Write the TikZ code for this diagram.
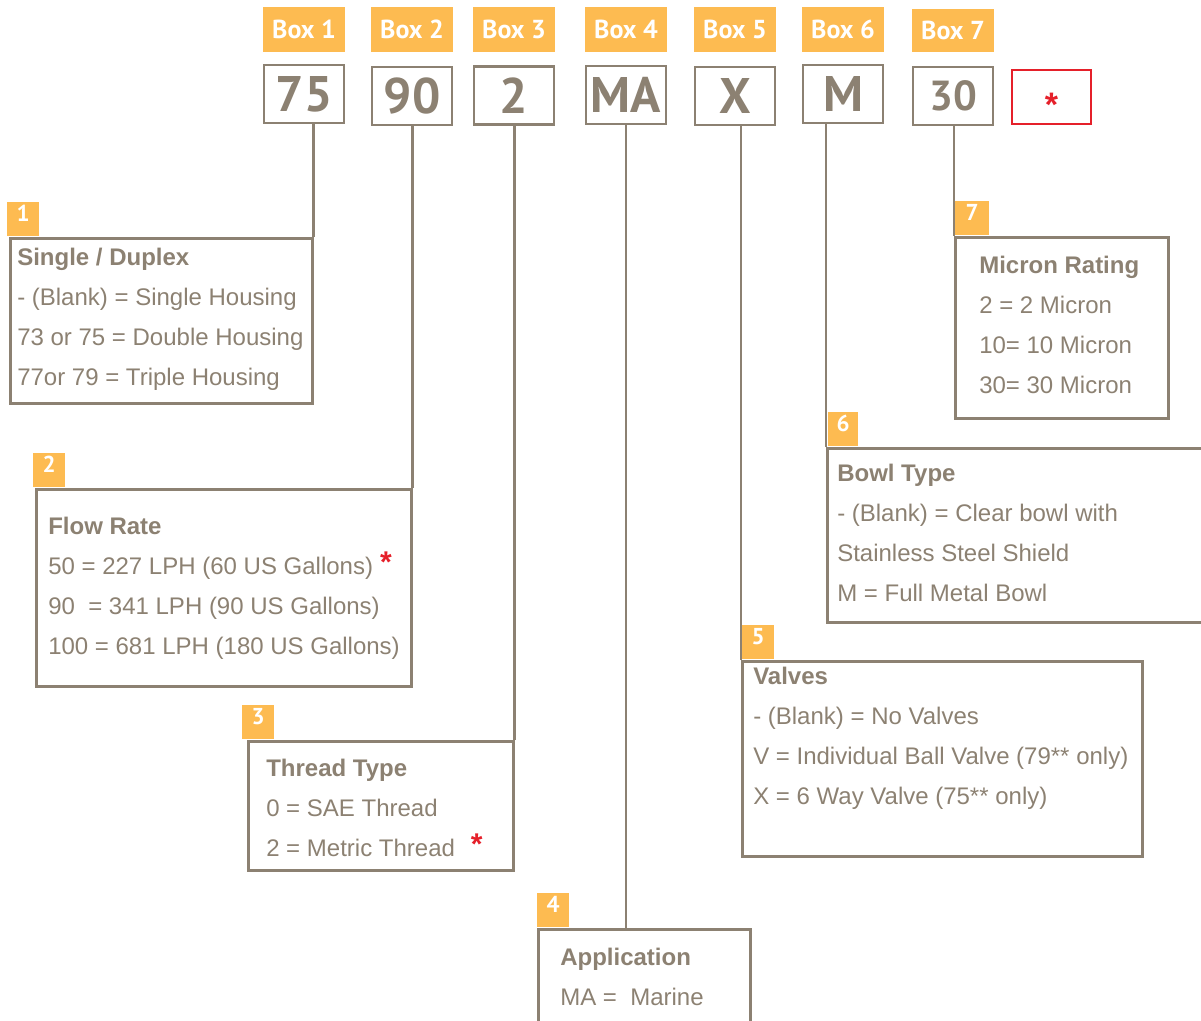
\documentclass[tikz,border=0pt]{standalone}
\usepackage{fontspec}
\setmainfont{Liberation Sans}
\newfontfamily\dinfont{PT Sans}
\usetikzlibrary{positioning}

\definecolor{taupe}{HTML}{8C8172}
\definecolor{tabgold}{HTML}{FDBB51}
\definecolor{starred}{HTML}{E5202A}

\begin{document}
\begin{tikzpicture}[x=1pt,y=-1pt,line width=2.5pt,
    every node/.style={inner sep=0pt},
    hdrtab/.style={fill=tabgold,text=white,minimum width=82pt,minimum height=45pt,
      font=\dinfont\bfseries\fontsize{26}{26}\selectfont},
    valbox/.style={draw=taupe,text=taupe,minimum width=80pt,minimum height=58pt,
      font=\dinfont\bfseries\fontsize{50}{50}\selectfont},
    numtab/.style={fill=tabgold,text=white,minimum width=32pt,minimum height=34pt,
      text depth=10pt,anchor=south west,font=\dinfont\bfseries\fontsize{23}{23}\selectfont},
    descbox/.style={draw=taupe,anchor=north west},
    desctext/.style={anchor=north west,align=left,text=taupe,font=\fontsize{24}{40}\selectfont},
    link/.style={draw=taupe}]
  \clip (0,0) rectangle (1201,1020);
  \newcommand{\redstar}{{\color{starred}\bfseries\fontsize{30}{40}\selectfont\raisebox{2pt}{*}}}

  % code boxes
  \node[valbox] (v1) at (304,94)   {75};
  \node[valbox] (v2) at (412,96)   {90};
  \node[valbox] (v3) at (514,95.5) {2};
  \node[valbox] (v4) at (626,95)   {MA};
  \node[valbox] (v5) at (735,96)   {X};
  \node[valbox] (v6) at (843,94)   {M};
  \node[valbox,font=\dinfont\bfseries\fontsize{42}{42}\selectfont] (v7) at (953,96) {30};
  \node[valbox,draw=starred,text=starred,minimum width=79pt,minimum height=54pt,
    font=\bfseries\fontsize{34}{34}\selectfont] (v8) at (1051.5,97) {\smash{\raisebox{-19pt}{*}}};

  \node[hdrtab,above=11pt of v1] (b1) {Box 1};
  \node[hdrtab,above=13pt of v2] (b2) {Box 2};
  \node[hdrtab,above=12pt of v3] (b3) {Box 3};
  \node[hdrtab,above=12pt of v4] (b4) {Box 4};
  \node[hdrtab,above=13pt of v5] (b5) {Box 5};
  \node[hdrtab,above=11pt of v6] (b6) {Box 6};
  \node[hdrtab,above=13pt of v7,minimum height=43pt] (b7) {Box 7};

  % description boxes
  \node[descbox,minimum width=302pt,minimum height=165pt] (d1) at (9,237)   {};
  \node[descbox,minimum width=375pt,minimum height=197pt] (d2) at (35,488)  {};
  \node[descbox,minimum width=265pt,minimum height=129pt] (d3) at (247,740) {};
  \node[descbox,minimum width=212pt,minimum height=130pt] (d4) at (537,928) {};
  \node[descbox,minimum width=400pt,minimum height=195pt] (d5) at (741,660) {};
  \node[descbox,minimum width=420pt,minimum height=174pt] (d6) at (826,447) {};
  \node[descbox,minimum width=213pt,minimum height=181pt] (d7) at (954,236) {};

  \node[numtab] (n1) at ([xshift=-3pt]d1.north west) {1};
  \node[numtab] (n2) at ([xshift=-3pt]d2.north west) {2};
  \node[numtab] (n3) at ([xshift=-6pt]d3.north west) {3};
  \node[numtab] (n4) at ([xshift=-1pt]d4.north west) {4};
  \node[numtab] (n5) at (d5.north west) {5};
  \node[numtab,minimum width=30pt] (n6) at ([xshift=1pt]d6.north west) {6};
  \node[numtab,minimum width=34pt] (n7) at (d7.north west) {7};

  \node[desctext] (t1) at ([xshift=7pt,yshift=-10pt]d1.north west)
    {\textbf{Single / Duplex}\\- (Blank) = Single Housing\\73 or 75 = Double Housing\\77or 79 = Triple Housing};
  \node[desctext] (t2) at ([xshift=12pt,yshift=-28pt]d2.north west)
    {\textbf{Flow Rate}\\50 = 227 LPH (60 US Gallons)\hspace{7pt}\redstar\\90~ = 341 LPH (90 US Gallons)\\100 = 681 LPH (180 US Gallons)};
  \node[desctext] (t3) at ([xshift=18pt,yshift=-18pt]d3.north west)
    {\textbf{Thread Type}\\0 = SAE Thread\\2 = Metric Thread\hspace{16pt}\redstar};
  \node[desctext] (t4) at ([xshift=22pt,yshift=-19pt]d4.north west)
    {\textbf{Application}\\MA =~ Marine};
  \node[desctext] (t5) at ([xshift=11pt,yshift=-6pt]d5.north west)
    {\textbf{Valves}\\- (Blank) = No Valves\\V = Individual Ball Valve (79** only)\\X = 6 Way Valve (75** only)};
  \node[desctext] (t6) at ([xshift=10pt,yshift=-16pt]d6.north west)
    {\textbf{Bowl Type}\\- (Blank) = Clear bowl with\\Stainless Steel Shield\\M = Full Metal Bowl};
  \node[desctext] (t7) at ([xshift=24pt,yshift=-19pt]d7.north west)
    {\textbf{Micron Rating}\\2 = 2 Micron\\10= 10 Micron\\30= 30 Micron};

  % connectors
  \draw[link] (v1.south -| d1.north east) -- (d1.north east);
  \draw[link] (v2.south -| d2.north east) -- (d2.north east);
  \draw[link] (v3.south -| d3.north east) -- (d3.north east);
  \draw[link] (v4.south) -- (v4.south |- d4.north);
  \draw[link] (v5.south -| d5.north west) -- (d5.north west);
  \draw[link] (v6.south -| d6.north west) -- (d6.north west);
  \draw[link] (v7.south -| d7.north west) -- (d7.north west);
\end{tikzpicture}
\end{document}
